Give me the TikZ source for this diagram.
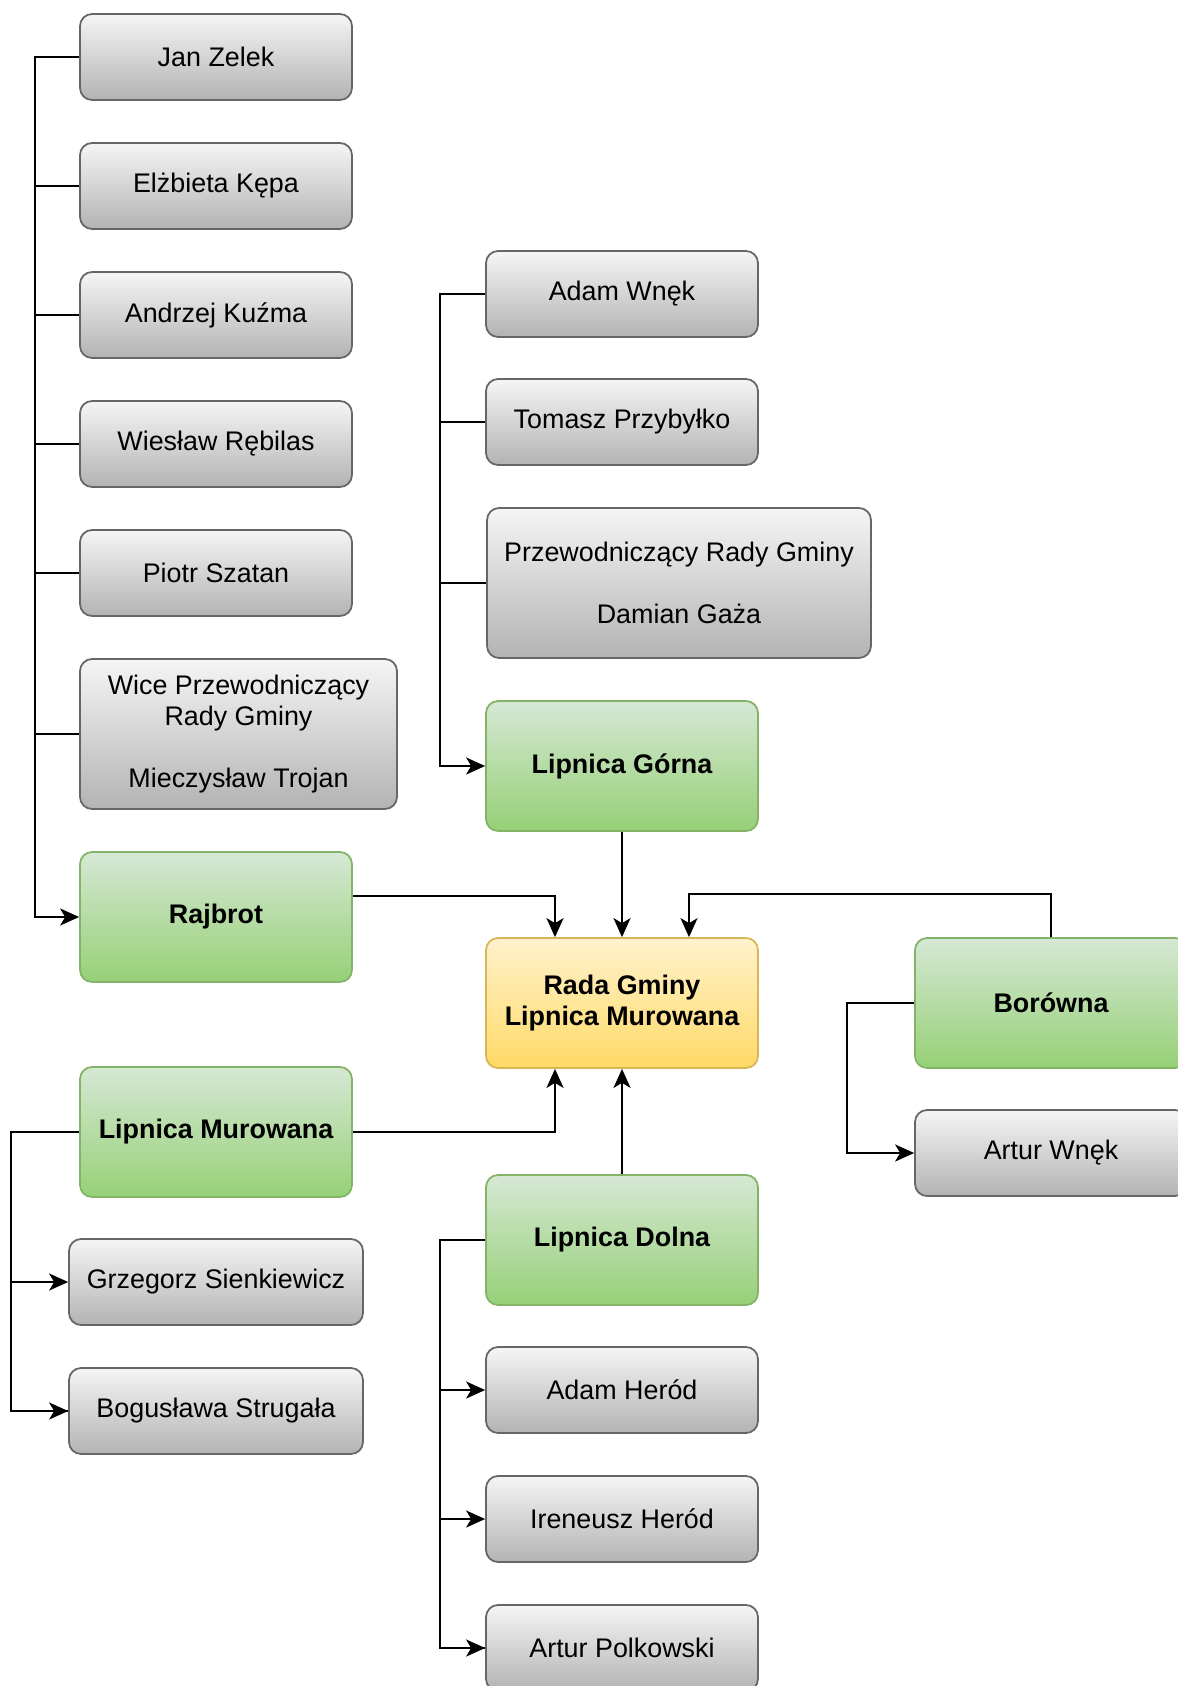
\documentclass[tikz,border=0pt]{standalone}
\usepackage{fontspec}
\setmainfont{Liberation Sans}
\usetikzlibrary{arrows.meta,positioning,calc}
\definecolor{grayline}{HTML}{666666}
\definecolor{graytop}{HTML}{F5F5F5}
\definecolor{graybot}{HTML}{B3B3B3}
\definecolor{greenline}{HTML}{82B366}
\definecolor{greentop}{HTML}{D5E8D4}
\definecolor{greenbot}{HTML}{97D077}
\definecolor{yellowline}{HTML}{D6B656}
\definecolor{yellowtop}{HTML}{FFF2CC}
\definecolor{yellowbot}{HTML}{FFD966}

\begin{document}
\begin{tikzpicture}[x=0.02cm, y=-0.02cm,
  box/.style={draw, rounded corners=0.24cm, line width=1pt, align=center,
    minimum width=5.44cm, minimum height=1.72cm, inner sep=0pt,
    font=\fontsize{15.3}{17.6}\selectfont},
  person/.style={box, draw=grayline, top color=graytop, bottom color=graybot},
  village/.style={box, draw=greenline, top color=greentop, bottom color=greenbot,
    minimum height=2.6cm, font=\fontsize{15.3}{17.6}\selectfont\bfseries},
  council/.style={village, draw=yellowline, top color=yellowtop, bottom color=yellowbot},
  link/.style={draw=black, line width=1.3pt},
  arr/.style={link, -{Stealth[length=0.38cm, width=0.34cm, inset=0.1cm]}}]
  \useasboundingbox (0,0) rectangle (1177,1686);

  % left column
  \node[person] (jan) at (216,57) {Jan Zelek};
  \node[person] (elzbieta) at (216,186) {Elżbieta Kępa};
  \node[person] (andrzej) at (216,315) {Andrzej Kuźma};
  \node[person] (wieslaw) at (216,444) {Wiesław Rębilas};
  \node[person] (piotr) at (216,573) {Piotr Szatan};
  \node[person, minimum width=6.34cm, minimum height=3cm] (wice) at (238.5,734)
    {Wice Przewodniczący\\Rady Gminy\\[17.6pt]Mieczysław Trojan};
  \node[village] (rajbrot) at (216,917) {Rajbrot};
  \node[village] (lm) at (216,1132) {Lipnica Murowana};
  \node[person, minimum width=5.88cm] (grzegorz) at (216,1282) {Grzegorz Sienkiewicz};
  \node[person, minimum width=5.88cm] (boguslawa) at (216,1411) {Bogusława Strugała};

  % middle column
  \node[person] (adamw) at (622,294) {Adam Wnęk};
  \node[person] (tomasz) at (622,422) {Tomasz Przybyłko};
  \node[person, minimum width=7.68cm, minimum height=3cm] (przew) at (679,583)
    {Przewodniczący Rady Gminy\\[17.6pt]Damian Gaża};
  \node[village] (gorna) at (622,766) {Lipnica Górna};
  \node[council] (rada) at (622,1003) {Rada Gminy\\Lipnica Murowana};
  \node[village] (dolna) at (622,1240) {Lipnica Dolna};
  \node[person] (adamh) at (622,1390) {Adam Heród};
  \node[person] (ireneusz) at (622,1519) {Ireneusz Heród};
  \node[person] (polk) at (622,1648) {Artur Polkowski};

  % right column
  \node[village] (borowna) at (1051,1003) {Borówna};
  \node[person] (arturw) at (1051,1153) {Artur Wnęk};

  % members
  \draw[arr] (jan.west) -- ++(-44,0) |- (rajbrot.west);
  \foreach \n in {elzbieta,andrzej,wieslaw,piotr,wice}
    \draw[link] (\n.west) -- ++(-44,0);
  \draw[arr] (adamw.west) -- ++(-45,0) |- (gorna.west);
  \foreach \n in {tomasz,przew}
    \draw[link] (\n.west) -- ++(-45,0);
  \draw[link] (lm.west) -- ++(-68,0) coordinate (lmtrunk) |- (boguslawa.west);
  \foreach \n in {grzegorz,boguslawa}
    \draw[arr] (lmtrunk |- \n.west) -- (\n.west);
  \draw[link] (dolna.west) -- ++(-45,0) coordinate (dtrunk) |- (polk.west);
  \foreach \n in {adamh,ireneusz,polk}
    \draw[arr] (dtrunk |- \n.west) -- (\n.west);
  \draw[arr] (borowna.west) -- ++(-67,0) |- (arturw.west);

  % villages to council
  \draw[arr] ($(rajbrot.east)+(0,-21)$) -| ($(rada.north)+(-67,0)$);
  \draw[arr] (gorna.south) -- (rada.north);
  \draw[arr] (borowna.north) -- ++(0,-43) -| ($(rada.north)+(67,0)$);
  \draw[arr] (lm.east) -| ($(rada.south)+(-67,0)$);
  \draw[arr] (dolna.north) -- (rada.south);
\end{tikzpicture}
\end{document}
